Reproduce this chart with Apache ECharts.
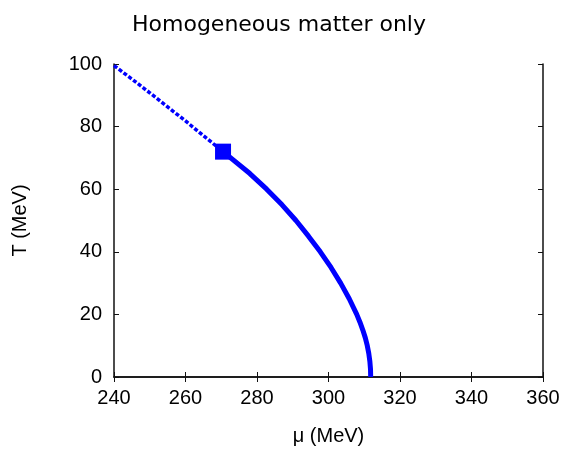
<!DOCTYPE html>
<html>
<head>
<meta charset="utf-8">
<script src="https://cdn.jsdelivr.net/npm/echarts@6/dist/echarts.min.js"></script>
<style>
html,body{margin:0;padding:0;background:#fff;}
#main{width:568px;height:451px;}
</style>
</head>
<body>
<div id="main"></div>
<script>
// metastable branch (dashed) : mu, T
var dashMu = [240, 245, 250, 255, 260, 265, 270.5];
var dashT = [99.5, 95.2, 90.8, 86.3, 81.8, 77.1, 72];
// stable branch (solid)
var solidMu = [270.5, 278.0, 282.7, 287.0, 290.9, 294.4, 297.7, 300.7, 303.4, 305.8, 307.9, 308.8, 309.6, 310.3, 310.85, 311.27, 311.57, 311.75, 311.8];
var solidT = [72, 65, 60, 55, 50, 45, 40, 35, 30, 25, 20, 17.5, 15, 12.5, 10, 7.5, 5, 2.5, 0];
// critical end point
var cepMu = 270.5, cepT = 72;

var main = echarts.init(document.getElementById('main'));

function pairs(a, b) {
	var out = [];
	a.forEach(function (v, i) { out.push([v, b[i]]); });
	return out;
}

var font = 'Liberation Sans';
var axisCol = '#111';

option = {
	backgroundColor: '#fff',
	animation: false,
	title: {
		text: 'Homogeneous matter only',
		left: 274,
		textAlign: 'center',
		top: 9,
		textStyle: { fontFamily: 'DejaVu Sans', fontWeight: 'normal', fontSize: 22, color: '#000' }
	},
	grid: { left: 114, top: 64, width: 429, height: 315 },
	xAxis: [{
		type: 'value', min: 240, max: 360, interval: 20,
		name: 'μ (MeV)', nameLocation: 'middle', nameGap: 49,
		nameTextStyle: { fontFamily: font, fontSize: 20, color: '#000' },
		axisLine: { lineStyle: { color: axisCol, width: 1.5 } },
		axisTick: { inside: true, length: 5, lineStyle: { color: axisCol } },
		axisLabel: { fontFamily: font, fontSize: 20, color: '#000', margin: 11 },
		splitLine: { show: false }
	}, {
		type: 'value', min: 240, max: 360, interval: 20, position: 'top',
		axisLine: { lineStyle: { color: axisCol, width: 1.5 } },
		axisTick: { inside: true, length: 5, lineStyle: { color: axisCol } },
		axisLabel: { show: false },
		splitLine: { show: false }
	}],
	yAxis: [{
		type: 'value', min: 0, max: 100, interval: 20,
		name: 'T (MeV)', nameLocation: 'middle', nameGap: 84,
		nameTextStyle: { fontFamily: font, fontSize: 20, color: '#000' },
		axisLine: { show: true, lineStyle: { color: axisCol, width: 1.5 } },
		axisTick: { show: true, inside: true, length: 5, lineStyle: { color: axisCol } },
		axisLabel: { fontFamily: font, fontSize: 20, color: '#000', margin: 12 },
		splitLine: { show: false }
	}, {
		type: 'value', min: 0, max: 100, interval: 20, position: 'right',
		axisLine: { show: true, lineStyle: { color: axisCol, width: 1.5 } },
		axisTick: { show: true, inside: true, length: 5, lineStyle: { color: axisCol } },
		axisLabel: { show: false },
		splitLine: { show: false }
	}],
	series: [{
		type: 'line',
		data: pairs(dashMu, dashT),
		smooth: false,
		showSymbol: false,
		lineStyle: { color: '#0000ff', width: 3.5, type: [4, 2] },
		z: 2
	}, {
		type: 'line',
		data: pairs(solidMu, solidT),
		smooth: false,
		showSymbol: false,
		lineStyle: { color: '#0000ff', width: 5, join: 'round', cap: 'butt' },
		z: 3
	}, {
		type: 'scatter',
		data: [[cepMu, cepT]],
		symbol: 'rect',
		symbolSize: 16,
		itemStyle: { color: '#0000ff', opacity: 1 },
		z: 4
	}]
};

main.setOption(option);
</script>
</body>
</html>
